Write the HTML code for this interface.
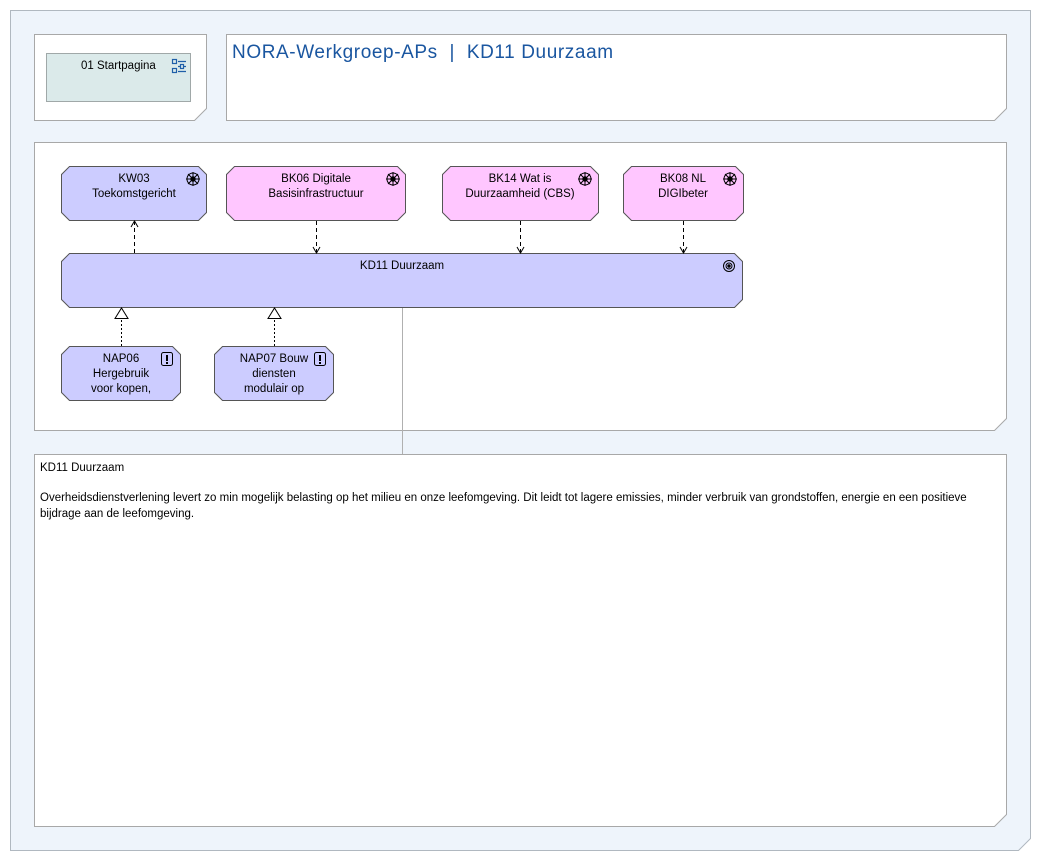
<!DOCTYPE html>
<html><head><meta charset="utf-8"><style>
body{margin:0;width:1041px;height:861px;background:#fff;overflow:hidden}
svg{display:block}
text{font-family:"Liberation Sans",sans-serif;font-size:11.5px;fill:#000}
</style></head><body>
<svg width="1041" height="861" viewBox="0 0 1041 861">
<path d="M10.5 10.5H1030.5V838.5L1018.5 850.5H10.5Z" fill="#eef4fb" stroke="#b0b8c0"/>
<path d="M34.5 34.5H206.5V108.5L194.5 120.5H34.5Z" fill="#fff" stroke="#a8a8a8"/>
<rect x="46.5" y="53.5" width="144" height="48" fill="#dbeaea" stroke="#a0a8a8"/>
<text x="81" y="69">01 Startpagina</text>
<g fill="none" stroke="#1f5fa8" stroke-width="1.2"><rect x="172.5" y="59.5" width="4" height="4"/><rect x="172.5" y="68.5" width="4" height="4"/><path d="M178 61.5h8M178 66.5h3M183 66.5h3M178 71.5h8"/><rect x="180.5" y="64.5" width="3" height="4"/></g>
<path d="M226.5 34.5H1006.5V108.5L994.5 120.5H226.5Z" fill="#fff" stroke="#a8a8a8"/>
<text x="232" y="58" style="font-size:19px;fill:#1a56a0;letter-spacing:0.6px">NORA-Werkgroep-APs &#160;| &#160;KD11 Duurzaam</text>
<path d="M34.5 142.5H1006.5V418.5L994.5 430.5H34.5Z" fill="#fff" stroke="#a8a8a8"/>
<path d="M34.5 454.5H1006.5V814.5L994.5 826.5H34.5Z" fill="#fff" stroke="#a8a8a8"/>
<text x="40" y="471">KD11 Duurzaam</text>
<text x="40" y="501">Overheidsdienstverlening levert zo min mogelijk belasting op het milieu en onze leefomgeving. Dit leidt tot lagere emissies, minder verbruik van grondstoffen, energie en een positieve</text>
<text x="40" y="517">bijdrage aan de leefomgeving.</text>
<line x1="402.5" y1="307" x2="402.5" y2="454" stroke="#b0b0b0"/>
<g stroke="#555" stroke-linejoin="miter">
<path d="M69.5 166.5H198.5L206.5 174.5V212.5L198.5 220.5H69.5L61.5 212.5V174.5Z" fill="#ccccff"/>
<path d="M234.5 166.5H397.5L405.5 174.5V212.5L397.5 220.5H234.5L226.5 212.5V174.5Z" fill="#ffc6ff"/>
<path d="M450.5 166.5H590.5L598.5 174.5V212.5L590.5 220.5H450.5L442.5 212.5V174.5Z" fill="#ffc6ff"/>
<path d="M631.5 166.5H735.5L743.5 174.5V212.5L735.5 220.5H631.5L623.5 212.5V174.5Z" fill="#ffc6ff"/>
<path d="M69.5 253.5H734.5L742.5 261.5V299.5L734.5 307.5H69.5L61.5 299.5V261.5Z" fill="#ccccff"/>
<path d="M69.5 346.5H172.5L180.5 354.5V392.5L172.5 400.5H69.5L61.5 392.5V354.5Z" fill="#ccccff"/>
<path d="M222.5 346.5H325.5L333.5 354.5V392.5L325.5 400.5H222.5L214.5 392.5V354.5Z" fill="#ccccff"/>
</g>
<g stroke="#000" fill="none">
<path d="M134.5 253V222" stroke-dasharray="4,3"/><path d="M131 227L134.5 221L138 227"/>
<path d="M316.5 221V252" stroke-dasharray="4,3"/><path d="M313 247L316.5 253L320 247"/>
<path d="M520.5 221V252" stroke-dasharray="4,3"/><path d="M517 247L520.5 253L524 247"/>
<path d="M683.5 221V252" stroke-dasharray="4,3"/><path d="M680 247L683.5 253L687 247"/>
<path d="M121.5 346V319" stroke-dasharray="2,2"/><path d="M115 318.5H128L121.5 308Z" fill="#fff"/>
<path d="M274.5 346V319" stroke-dasharray="2,2"/><path d="M268 318.5H281L274.5 308Z" fill="#fff"/>
</g>
<g fill="none" stroke="#000" stroke-width="1">
<g transform="translate(193,179)"><circle r="6"/><circle r="2.2" fill="#000"/><path d="M-7 0H7M0-7V7M-5-5L5 5M-5 5L5-5"/></g>
<g transform="translate(393,179)"><circle r="6"/><circle r="2.2" fill="#000"/><path d="M-7 0H7M0-7V7M-5-5L5 5M-5 5L5-5"/></g>
<g transform="translate(585,179)"><circle r="6"/><circle r="2.2" fill="#000"/><path d="M-7 0H7M0-7V7M-5-5L5 5M-5 5L5-5"/></g>
<g transform="translate(730,179)"><circle r="6"/><circle r="2.2" fill="#000"/><path d="M-7 0H7M0-7V7M-5-5L5 5M-5 5L5-5"/></g>
<g transform="translate(729,266)"><circle r="5.5"/><circle r="3"/><circle r="1.2" fill="#000"/></g>
<rect x="161.5" y="352.5" width="11" height="13" rx="2"/><rect x="314.5" y="352.5" width="11" height="13" rx="2"/>
</g>
<rect x="166" y="355" width="2" height="6"/><rect x="166" y="362" width="2" height="2"/>
<rect x="319" y="355" width="2" height="6"/><rect x="319" y="362" width="2" height="2"/>
<g text-anchor="middle">
<text x="134" y="182">KW03</text><text x="134" y="197">Toekomstgericht</text>
<text x="316" y="182">BK06 Digitale</text><text x="316" y="197">Basisinfrastructuur</text>
<text x="520" y="182">BK14 Wat is</text><text x="520" y="197">Duurzaamheid (CBS)</text>
<text x="683" y="182">BK08 NL</text><text x="683" y="197">DIGIbeter</text>
<text x="402" y="269">KD11 Duurzaam</text>
<text x="121" y="362">NAP06</text><text x="121" y="377">Hergebruik</text><text x="121" y="392">voor kopen,</text>
<text x="274" y="362">NAP07 Bouw</text><text x="274" y="377">diensten</text><text x="274" y="392">modulair op</text>
</g>
</svg>
</body></html>
